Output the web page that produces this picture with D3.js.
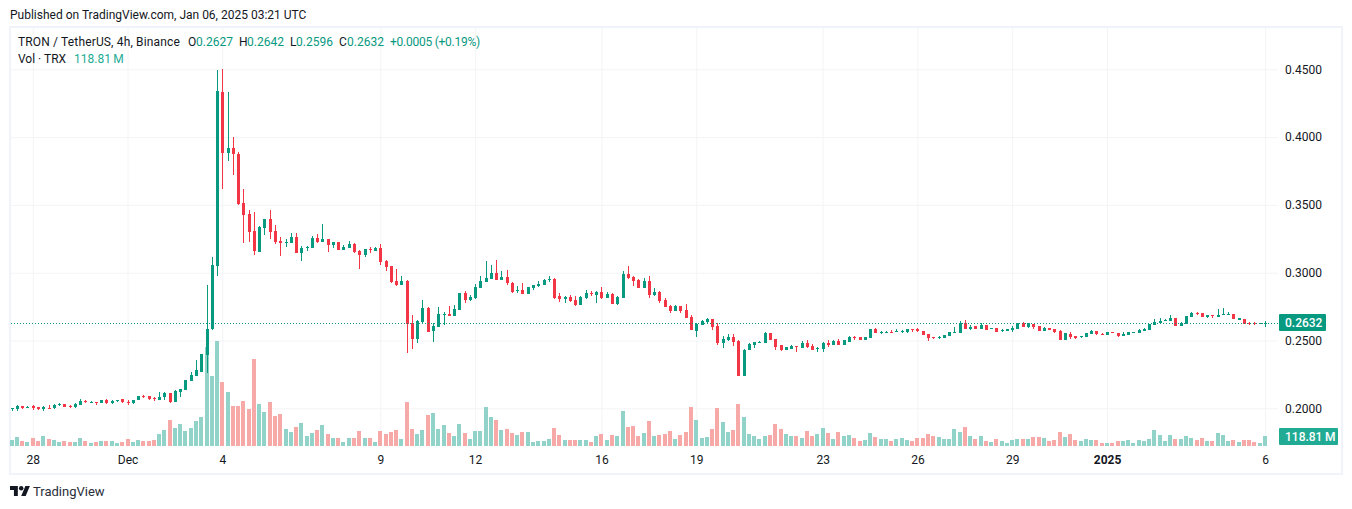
<!DOCTYPE html>
<html>
<head>
<meta charset="utf-8">
<title>TRON / TetherUS</title>
<script src="https://cdn.jsdelivr.net/npm/d3@7/dist/d3.min.js"></script>
<style>
  html, body { margin: 0; padding: 0; background: #ffffff; }
  svg { display: block; }
  text { font-family: Roboto, sans-serif; font-size: 12px; fill: #131722; }
</style>
</head>
<body>
<svg id="chart" width="1352" height="509"></svg>
<script>
/* 4h candles, Nov 27 08:00 to Jan 6 00:00. */
var opens = [
  .1997, .1997, .2016, .2006, .2014, .2006, .1994, .2001, .1999, .2024,
  .2033, .2019, .2006, .2028, .2055, .2046, .2046, .2036, .2058, .2036,
  .2055, .2065, .2048, .2036, .2058, .2092, .2090, .2078, .2063, .2085,
  .2112, .2048, .2122, .2137, .2202, .2239, .2271, .2393, .2584, .3052,
  .4333, .3885, .3920, .3875, .3512, .3433, .3305, .3153, .3332, .3396,
  .3308, .3234, .3219, .3219, .3263, .3145, .3182, .3182, .3256, .3227,
  .3249, .3204, .3227, .3168, .3182, .3212, .3160, .3131, .3175, .3160,
  .3182, .3086, .3049, .2939, .2909, .2939, .2629, .2511, .2636, .2740,
  .2570, .2599, .2688, .2695, .2681, .2725, .2850, .2799, .2813, .2887,
  .2931, .2953, .2998, .2946, .2968, .2924, .2865, .2872, .2843, .2887,
  .2902, .2909, .2946, .2953, .2828, .2806, .2823, .2801, .2764, .2816,
  .2853, .2838, .2860, .2816, .2846, .2772, .2816, .2993, .2971, .2949,
  .2890, .2941, .2838, .2860, .2801, .2757, .2720, .2757, .2728, .2676,
  .2573, .2617, .2639, .2661, .2610, .2484, .2506, .2528, .2499, .2241,
  .2433, .2469, .2484, .2484, .2555, .2511, .2467, .2430, .2437, .2459,
  .2445, .2482, .2459, .2437, .2437, .2482, .2467, .2496, .2467, .2489,
  .2526, .2526, .2504, .2519, .2585, .2555, .2558, .2563, .2565, .2563,
  .2563, .2585, .2585, .2570, .2548, .2526, .2519, .2519, .2533, .2558,
  .2555, .2629, .2585, .2607, .2585, .2614, .2585, .2592, .2570, .2570,
  .2578, .2585, .2629, .2600, .2622, .2607, .2570, .2592, .2585, .2570,
  .2504, .2548, .2533, .2529, .2526, .2548, .2570, .2548, .2541, .2563,
  .2556, .2533, .2541, .2558, .2556, .2570, .2578, .2615, .2629, .2644,
  .2644, .2666, .2607, .2622, .2673, .2703, .2703, .2673, .2688, .2673,
  .2688, .2688, .2696, .2654, .2659, .2629, .2629, .2622, .2627
];
var highs = [
  .2001, .2026, .2016, .2019, .2024, .2011, .2016, .2024, .2033, .2041,
  .2033, .2026, .2041, .2070, .2063, .2055, .2046, .2063, .2065, .2063,
  .2063, .2070, .2058, .2063, .2092, .2100, .2092, .2085, .2122, .2117,
  .2112, .2132, .2141, .2207, .2266, .2357, .2401, .2906, .3118, .4495,
  .4500, .4333, .3998, .3893, .3617, .3462, .3448, .3345, .3396, .3462,
  .3352, .3263, .3249, .3293, .3293, .3197, .3197, .3271, .3285, .3359,
  .3249, .3227, .3227, .3204, .3234, .3219, .3168, .3175, .3190, .3190,
  .3212, .3094, .3049, .3027, .2976, .2946, .2688, .2651, .2799, .2747,
  .2629, .2747, .2710, .2754, .2762, .2850, .2865, .2835, .2917, .2976,
  .3086, .3057, .3094, .3012, .3020, .2931, .2902, .2924, .2894, .2909,
  .2939, .2953, .2976, .2961, .2850, .2828, .2838, .2831, .2831, .2875,
  .2868, .2868, .2897, .2860, .2853, .2831, .3015, .3052, .2978, .2956,
  .2964, .2978, .2890, .2868, .2816, .2764, .2764, .2757, .2772, .2691,
  .2632, .2654, .2669, .2661, .2632, .2536, .2551, .2551, .2506, .2440,
  .2484, .2492, .2499, .2565, .2555, .2511, .2467, .2452, .2467, .2459,
  .2496, .2504, .2474, .2452, .2489, .2504, .2504, .2511, .2504, .2533,
  .2533, .2526, .2526, .2585, .2592, .2570, .2570, .2578, .2585, .2578,
  .2585, .2585, .2592, .2570, .2548, .2526, .2533, .2541, .2563, .2600,
  .2644, .2651, .2612, .2607, .2629, .2614, .2590, .2592, .2585, .2585,
  .2607, .2629, .2636, .2629, .2622, .2607, .2600, .2592, .2585, .2578,
  .2556, .2563, .2533, .2533, .2556, .2578, .2570, .2556, .2563, .2563,
  .2556, .2563, .2563, .2563, .2585, .2592, .2622, .2659, .2666, .2659,
  .2688, .2666, .2636, .2681, .2710, .2710, .2703, .2688, .2688, .2732,
  .2740, .2710, .2696, .2666, .2659, .2636, .2636, .2627, .2642
];
var lows = [
  .1982, .1982, .1997, .2004, .1989, .1989, .1982, .1997, .1997, .2019,
  .2011, .2004, .2004, .2026, .2036, .2043, .2026, .2036, .2033, .2033,
  .2048, .2041, .2026, .2033, .2058, .2078, .2063, .2055, .2063, .2063,
  .2036, .2048, .2085, .2137, .2202, .2239, .2271, .2264, .2575, .2976,
  .3620, .3824, .3721, .3499, .3222, .3229, .3131, .3153, .3278, .3249,
  .3212, .3123, .3190, .3219, .3145, .3086, .3160, .3182, .3219, .3227,
  .3153, .3182, .3168, .3168, .3182, .3145, .3027, .3116, .3145, .3160,
  .3057, .3013, .2924, .2902, .2909, .2408, .2437, .2481, .2629, .2563,
  .2489, .2599, .2614, .2681, .2681, .2725, .2776, .2791, .2806, .2887,
  .2931, .2953, .2946, .2946, .2909, .2850, .2850, .2843, .2843, .2872,
  .2895, .2909, .2931, .2806, .2784, .2776, .2787, .2757, .2764, .2809,
  .2831, .2779, .2809, .2816, .2772, .2764, .2816, .2956, .2905, .2890,
  .2890, .2816, .2831, .2779, .2750, .2705, .2720, .2705, .2669, .2580,
  .2528, .2617, .2632, .2580, .2469, .2447, .2499, .2462, .2241, .2241,
  .2433, .2447, .2484, .2484, .2504, .2430, .2423, .2430, .2437, .2415,
  .2445, .2445, .2430, .2415, .2415, .2452, .2467, .2467, .2467, .2489,
  .2504, .2504, .2504, .2519, .2555, .2548, .2558, .2558, .2565, .2555,
  .2555, .2563, .2563, .2541, .2496, .2511, .2511, .2519, .2533, .2558,
  .2555, .2585, .2578, .2585, .2585, .2578, .2585, .2563, .2563, .2570,
  .2563, .2585, .2600, .2592, .2585, .2570, .2570, .2578, .2556, .2504,
  .2504, .2511, .2511, .2519, .2526, .2548, .2541, .2541, .2541, .2558,
  .2526, .2533, .2541, .2558, .2556, .2570, .2578, .2615, .2622, .2644,
  .2644, .2607, .2607, .2622, .2673, .2688, .2673, .2666, .2666, .2673,
  .2688, .2688, .2659, .2654, .2622, .2615, .2615, .2622, .2596
];
var closes = [
  .2001, .2019, .2001, .2011, .1999, .1997, .2006, .1997, .2026, .2031,
  .2011, .2006, .2033, .2055, .2050, .2050, .2041, .2063, .2036, .2055,
  .2060, .2043, .2036, .2058, .2092, .2085, .2070, .2073, .2083, .2112,
  .2048, .2127, .2141, .2207, .2246, .2283, .2401, .2585, .3057, .4340,
  .3885, .3920, .3875, .3507, .3428, .3303, .3163, .3335, .3396, .3303,
  .3229, .3219, .3227, .3263, .3145, .3182, .3190, .3256, .3227, .3249,
  .3204, .3227, .3168, .3190, .3212, .3153, .3131, .3175, .3168, .3182,
  .3079, .3042, .2931, .2909, .2939, .2622, .2511, .2644, .2740, .2563,
  .2607, .2695, .2695, .2681, .2732, .2850, .2799, .2821, .2894, .2939,
  .2961, .2998, .2946, .2968, .2924, .2858, .2872, .2843, .2894, .2909,
  .2917, .2946, .2953, .2813, .2806, .2821, .2794, .2764, .2823, .2853,
  .2846, .2860, .2816, .2846, .2772, .2823, .2993, .2964, .2941, .2890,
  .2941, .2838, .2860, .2794, .2750, .2720, .2757, .2720, .2669, .2580,
  .2624, .2646, .2661, .2602, .2484, .2514, .2528, .2492, .2241, .2433,
  .2477, .2492, .2492, .2558, .2504, .2452, .2430, .2452, .2459, .2452,
  .2482, .2452, .2430, .2445, .2482, .2467, .2496, .2467, .2504, .2526,
  .2519, .2504, .2526, .2585, .2555, .2563, .2563, .2558, .2570, .2570,
  .2585, .2578, .2570, .2541, .2519, .2519, .2526, .2541, .2563, .2563,
  .2629, .2585, .2600, .2585, .2614, .2578, .2590, .2563, .2578, .2585,
  .2592, .2629, .2600, .2629, .2600, .2570, .2592, .2578, .2563, .2504,
  .2556, .2526, .2519, .2533, .2556, .2570, .2548, .2541, .2563, .2558,
  .2533, .2548, .2563, .2563, .2578, .2585, .2622, .2636, .2644, .2651,
  .2666, .2607, .2629, .2681, .2703, .2696, .2673, .2688, .2681, .2688,
  .2696, .2696, .2659, .2664, .2622, .2622, .2622, .2627, .2632
];
/* Volume in millions of TRX. */
var volumes = [
  71, 107, 59, 48, 95, 59, 119, 83, 71, 48,
  59, 48, 48, 95, 59, 36, 48, 59, 59, 59,
  36, 48, 83, 48, 71, 59, 59, 71, 143, 190,
  309, 214, 261, 178, 214, 297, 345, 1176, 832, 1247,
  760, 642, 475, 475, 535, 440, 1034, 499, 404, 523,
  356, 380, 202, 166, 226, 273, 119, 154, 190, 249,
  143, 95, 95, 48, 95, 95, 178, 95, 95, 48,
  178, 143, 166, 190, 83, 523, 202, 143, 190, 368,
  392, 202, 249, 154, 119, 261, 154, 83, 178, 178,
  463, 345, 309, 190, 202, 154, 131, 166, 166, 48,
  59, 59, 83, 214, 131, 71, 71, 71, 71, 71,
  48, 119, 143, 71, 131, 119, 416, 226, 238, 119,
  154, 297, 119, 131, 143, 178, 83, 131, 166, 463,
  309, 95, 107, 202, 451, 285, 166, 190, 499, 345,
  143, 119, 83, 119, 131, 261, 202, 143, 119, 119,
  95, 178, 119, 143, 214, 154, 83, 166, 119, 131,
  95, 59, 71, 154, 107, 83, 83, 59, 83, 95,
  71, 59, 95, 95, 143, 119, 107, 83, 83, 202,
  166, 226, 119, 83, 119, 59, 48, 83, 59, 36,
  71, 83, 83, 83, 107, 107, 95, 59, 71, 166,
  107, 143, 71, 59, 83, 71, 71, 36, 36, 36,
  59, 59, 71, 36, 71, 59, 83, 190, 131, 59,
  131, 83, 83, 119, 95, 71, 95, 59, 59, 154,
  131, 59, 71, 48, 71, 71, 48, 36, 118.81
];
var priceTicks = [0.20, 0.25, 0.30, 0.35, 0.40, 0.45];
var timeTicks = [4, 22, 40, 70, 88, 112, 130, 154, 172, 190, 208, 238];
var timeLabels = ["28", "Dec", "4", "9", "12", "16", "19", "23", "26", "29", "2025", "6"];
var lastClose = 0.2632;
var lastVolume = 118.81;

var UP_COLOR = "#089981";
var DOWN_COLOR = "#f23645";
var VOL_UP_COLOR = "#91d2c9";
var VOL_DOWN_COLOR = "#f7a9a7";
var GRID_COLOR = "#f3f4f6";

var PLOT_LEFT = 11;
var PLOT_RIGHT = 1278;
var PLOT_TOP = 28;
var PLOT_BOTTOM = 446;

var svg = d3.select ("#chart");

var xScale = d3.scaleLinear ().domain ([0, closes.length - 1]).range ([11.7, 1265]);
var yPrice = d3.scaleLinear ().domain ([0.20, 0.45]).range ([408.3, 69.3]);
var yVolume = d3.scaleLinear ().domain ([0, lastVolume]).range ([PLOT_BOTTOM, PLOT_BOTTOM - 10]);

/* Returns the pixel column that a candle is snapped to. */
function candleX (i) {
  return Math.round (xScale (i));
}

function isUp (i) {
  return closes[i] >= opens[i];
}

/* Draws the frame around the chart and the line of text above it. */
function drawFrame () {
  svg.append ("rect")
    .attr ("x", 10).attr ("y", 27)
    .attr ("width", 1332).attr ("height", 447)
    .attr ("fill", "none")
    .attr ("stroke", "#f0f3fa")
    .attr ("stroke-width", 2);
  svg.append ("text")
    .attr ("x", 10).attr ("y", 19)
    .text ("Published on TradingView.com, Jan 06, 2025 03:21 UTC");
}

/* Draws both axes, their tick lines stretched across the plot as the grid. */
function drawAxes () {
  var timeAxis = d3.axisBottom (xScale)
    .tickValues (timeTicks)
    .tickSize (PLOT_BOTTOM - PLOT_TOP)
    .tickPadding (9)
    .tickFormat (function (d, i) { return timeLabels[i]; });
  var timeGroup = svg.append ("g")
    .attr ("transform", "translate(0," + PLOT_TOP + ")")
    .call (timeAxis);
  timeGroup.select (".domain").remove ();
  timeGroup.selectAll ("line").attr ("stroke", GRID_COLOR);
  timeGroup.selectAll ("text")
    .style ("font-family", "Roboto, sans-serif")
    .style ("font-size", "12px")
    .style ("font-weight", function (d, i) { return timeLabels[i] === "2025" ? "700" : "400"; });

  var priceAxis = d3.axisRight (yPrice)
    .tickValues (priceTicks)
    .tickSize (PLOT_RIGHT - PLOT_LEFT)
    .tickPadding (7)
    .tickFormat (d3.format (".4f"));
  var priceGroup = svg.append ("g")
    .attr ("transform", "translate(" + PLOT_LEFT + ",0)")
    .call (priceAxis);
  priceGroup.select (".domain").remove ();
  priceGroup.selectAll ("line").attr ("stroke", GRID_COLOR);
  priceGroup.selectAll ("text")
    .style ("font-family", "Roboto, sans-serif")
    .style ("font-size", "12px");
}

/* Draws the volume bars along the bottom of the plot. */
function drawVolume () {
  svg.append ("g")
    .attr ("shape-rendering", "crispEdges")
    .selectAll ("rect")
    .data (volumes)
    .join ("rect")
    .attr ("x", function (d, i) { return candleX (i) - 2; })
    .attr ("y", function (d) { return yVolume (d); })
    .attr ("width", 4)
    .attr ("height", function (d) { return PLOT_BOTTOM - yVolume (d); })
    .attr ("fill", function (d, i) { return isUp (i) ? VOL_UP_COLOR : VOL_DOWN_COLOR; });
}

/* Draws the wick and the body of every candle. */
function drawCandles () {
  var group = svg.append ("g").attr ("shape-rendering", "crispEdges");
  group.selectAll (".wick")
    .data (closes)
    .join ("rect")
    .attr ("class", "wick")
    .attr ("x", function (d, i) { return candleX (i); })
    .attr ("y", function (d, i) { return yPrice (highs[i]); })
    .attr ("width", 1)
    .attr ("height", function (d, i) { return yPrice (lows[i]) - yPrice (highs[i]); })
    .attr ("fill", function (d, i) { return isUp (i) ? UP_COLOR : DOWN_COLOR; });
  group.selectAll (".body")
    .data (closes)
    .join ("rect")
    .attr ("class", "body")
    .attr ("x", function (d, i) { return candleX (i) - 1; })
    .attr ("y", function (d, i) { return yPrice (Math.max (opens[i], closes[i])); })
    .attr ("width", 3)
    .attr ("height", function (d, i) {
      return Math.max (1, Math.abs (yPrice (opens[i]) - yPrice (closes[i])));
    })
    .attr ("fill", function (d, i) { return isUp (i) ? UP_COLOR : DOWN_COLOR; });
}

/* Draws the dotted last price line and the two badges on the right. */
function drawLastValue () {
  svg.append ("line")
    .attr ("x1", PLOT_LEFT).attr ("x2", PLOT_RIGHT)
    .attr ("y1", Math.round (yPrice (lastClose)) + 0.5)
    .attr ("y2", Math.round (yPrice (lastClose)) + 0.5)
    .attr ("stroke", UP_COLOR)
    .attr ("stroke-dasharray", "1 2");
  drawBadge (yPrice (lastClose), 47, UP_COLOR, d3.format (".4f") (lastClose));
  drawBadge (436.5, 59, "#22ab94", lastVolume + "\u2009M");
}

function drawBadge (centerY, width, color, label) {
  svg.append ("rect")
    .attr ("x", 1279).attr ("y", centerY - 8.5)
    .attr ("width", width).attr ("height", 17)
    .attr ("rx", 1)
    .attr ("fill", color);
  svg.append ("text")
    .attr ("x", 1285).attr ("y", centerY + 4.5)
    .style ("fill", "#ffffff")
    .style ("font-weight", "500")
    .text (label);
}

/* Draws the two legend rows in the top left corner. */
function drawLegend () {
  var rowOne = [
    [18, "TRON / TetherUS, 4h, Binance", "#131722", 0.15],
    [188, "O", "#131722", 0], [196, "0.2627", UP_COLOR, 0],
    [239, "H", "#131722", 0], [247, "0.2642", UP_COLOR, 0],
    [290, "L", "#131722", 0], [296, "0.2596", UP_COLOR, 0],
    [339, "C", "#131722", 0], [347, "0.2632", UP_COLOR, 0],
    [390, "+0.0005 (+0.19%)", UP_COLOR, -0.25]
  ];
  rowOne.forEach (function (item) {
    svg.append ("text")
      .attr ("x", item[0]).attr ("y", 46)
      .style ("fill", item[2])
      .style ("letter-spacing", item[3] + "px")
      .text (item[1]);
  });
  svg.append ("text")
    .attr ("x", 18).attr ("y", 63)
    .text ("Vol \u00b7 TRX");
  svg.append ("text")
    .attr ("x", 74).attr ("y", 63)
    .style ("fill", "#22ab94")
    .text (lastVolume + "\u2009M");
}

/* Draws the small TradingView mark under the chart. */
function drawLogo () {
  var mark = svg.append ("g")
    .attr ("transform", "translate(10,483.8) scale(0.56)")
    .attr ("fill", "#131722");
  mark.append ("path").attr ("d", "M14 22H7V11H0V4h14v18zM28 22h-8l7.5-18h8L28 22z");
  mark.append ("circle").attr ("cx", 20).attr ("cy", 8).attr ("r", 4);
  svg.append ("text")
    .attr ("x", 33).attr ("y", 496)
    .style ("font-size", "13px")
    .style ("fill", "#2a2e39")
    .text ("TradingView");
}

drawFrame ();
drawAxes ();
drawVolume ();
drawCandles ();
drawLastValue ();
drawLegend ();
drawLogo ();
</script>
</body>
</html>
